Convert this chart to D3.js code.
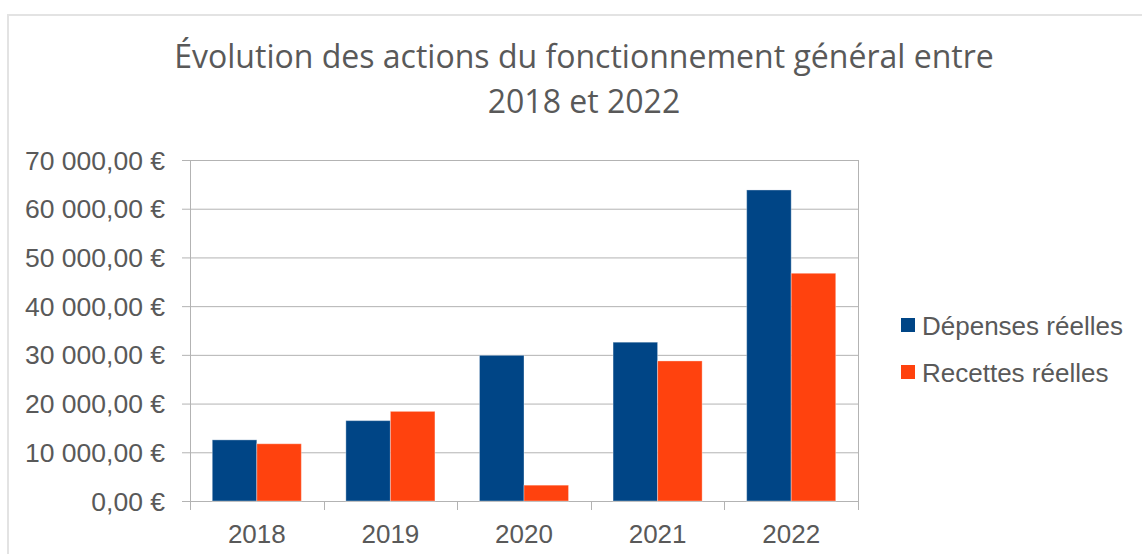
<!DOCTYPE html>
<html>
<head>
<meta charset="utf-8">
<script src="https://cdn.jsdelivr.net/npm/d3@7"></script>
<style>
  html, body { margin: 0; padding: 0; background: #fff; }
  svg { display: block; }
</style>
</head>
<body>
<div id="chart"></div>
<script>
(function () {
  "use strict";

  // Data
  const years = ["2018", "2019", "2020", "2021", "2022"];
  const seriesNames = ["Dépenses réelles", "Recettes réelles"];
  const depenses = [12550, 16500, 29900, 32600, 63850];
  const recettes = [11750, 18400, 3250, 28750, 46750];
  const yTicks = [0, 10000, 20000, 30000, 40000, 50000, 60000, 70000];
  const titleLines = ["Évolution des actions du fonctionnement général entre", "2018 et 2022"];

  const COLORS = ["#004586", "#ff420e"];
  const TEXT = "#595959";
  const GRID = "#b3b3b3";
  const FONT = "'Liberation Sans', Arial, sans-serif";
  const FONT_TITLE = "'Open Sans', Calibri, sans-serif";

  const W = 1142, H = 554;
  const plot = { left: 190, right: 858, top: 160, bottom: 501 };

  const svg = d3.select("#chart").append("svg").attr("width", W).attr("height", H);

  // outer chart frame (runs off right/bottom edge like the screenshot)
  svg.append("path")
    .attr("d", `M8,${H + 5} L8,15 L${W + 5},15`)
    .attr("fill", "none").attr("stroke", "#e3e3e3").attr("stroke-width", 2);

  const locale = d3.formatLocale({ decimal: ",", thousands: " ", grouping: [3], currency: ["", " €"] });
  const fmt = v => locale.format(",.2f")(v) + " €";

  const x = d3.scaleBand().domain(years).range([plot.left, plot.right]).paddingInner(0).paddingOuter(0);
  const bw = x.bandwidth();
  const xs = d3.scaleBand().domain(seriesNames).range([bw / 6, bw * 5 / 6]);
  const y = d3.scaleLinear().domain([0, 70000]).range([plot.bottom, plot.top]);

  // gridlines
  svg.append("g").selectAll("line").data(yTicks).join("line")
    .attr("x1", plot.left - 8).attr("x2", plot.right)
    .attr("y1", d => y(d) + 0.5).attr("y2", d => y(d) + 0.5)
    .attr("stroke", GRID).attr("stroke-width", 1);

  // y labels
  svg.append("g").selectAll("text").data(yTicks).join("text")
    .attr("x", 165).attr("y", d => y(d)).attr("dy", "0.36em")
    .attr("text-anchor", "end").attr("fill", TEXT)
    .attr("font-family", FONT).attr("font-size", "26.5px")
    .text(fmt);

  // vertical axis line + right border
  [plot.left, plot.right].forEach(px => {
    svg.append("line").attr("x1", px + 0.5).attr("x2", px + 0.5)
      .attr("y1", plot.top).attr("y2", plot.bottom + 9)
      .attr("stroke", GRID).attr("stroke-width", 1);
  });
  // category ticks
  svg.append("g").selectAll("line").data(years.slice(1)).join("line")
    .attr("x1", d => Math.round(x(d)) + 0.5).attr("x2", d => Math.round(x(d)) + 0.5)
    .attr("y1", plot.bottom).attr("y2", plot.bottom + 9)
    .attr("stroke", GRID).attr("stroke-width", 1);

  // bars
  const rows = years.map((yr, i) => ({ year: yr, values: [depenses[i], recettes[i]] }));
  const groups = svg.append("g").selectAll("g").data(rows).join("g")
    .attr("transform", d => `translate(${x(d.year)},0)`);
  groups.selectAll("rect").data(d => d.values.map((v, j) => ({ name: seriesNames[j], v, j }))).join("rect")
    .attr("x", d => xs(d.name)).attr("width", xs.bandwidth())
    .attr("y", d => y(d.v)).attr("height", d => y(0) - y(d.v))
    .attr("fill", d => COLORS[d.j])
    .attr("stroke", "#ffffff").attr("stroke-opacity", 0.35).attr("stroke-width", 1);

  // x labels
  svg.append("g").selectAll("text").data(years).join("text")
    .attr("x", d => x(d) + bw / 2).attr("y", 543)
    .attr("text-anchor", "middle").attr("fill", TEXT)
    .attr("font-family", FONT).attr("font-size", "26px")
    .text(d => d);

  // legend
  const leg = svg.append("g").attr("transform", "translate(901,318)");
  seriesNames.forEach((name, i) => {
    const g = leg.append("g").attr("transform", `translate(0,${i * 47})`);
    g.append("rect").attr("width", 14).attr("height", 14).attr("fill", COLORS[i]);
    g.append("text").attr("x", 21).attr("y", 17)
      .attr("fill", TEXT).attr("font-family", FONT).attr("font-size", "26px").text(name);
  });

  // title — sized to match the reference line width
  const t = svg.append("text").attr("text-anchor", "middle").attr("fill", TEXT)
    .attr("font-family", FONT_TITLE).attr("font-size", "30px");
  titleLines.forEach((line, i) => {
    t.append("tspan").attr("x", 584).attr("y", 68 + i * 45).text(line);
  });
  const first = t.select("tspan").node().getComputedTextLength();
  if (first > 0) t.attr("font-size", (30 * 820 / first).toFixed(2) + "px");
})();
</script>
</body>
</html>
